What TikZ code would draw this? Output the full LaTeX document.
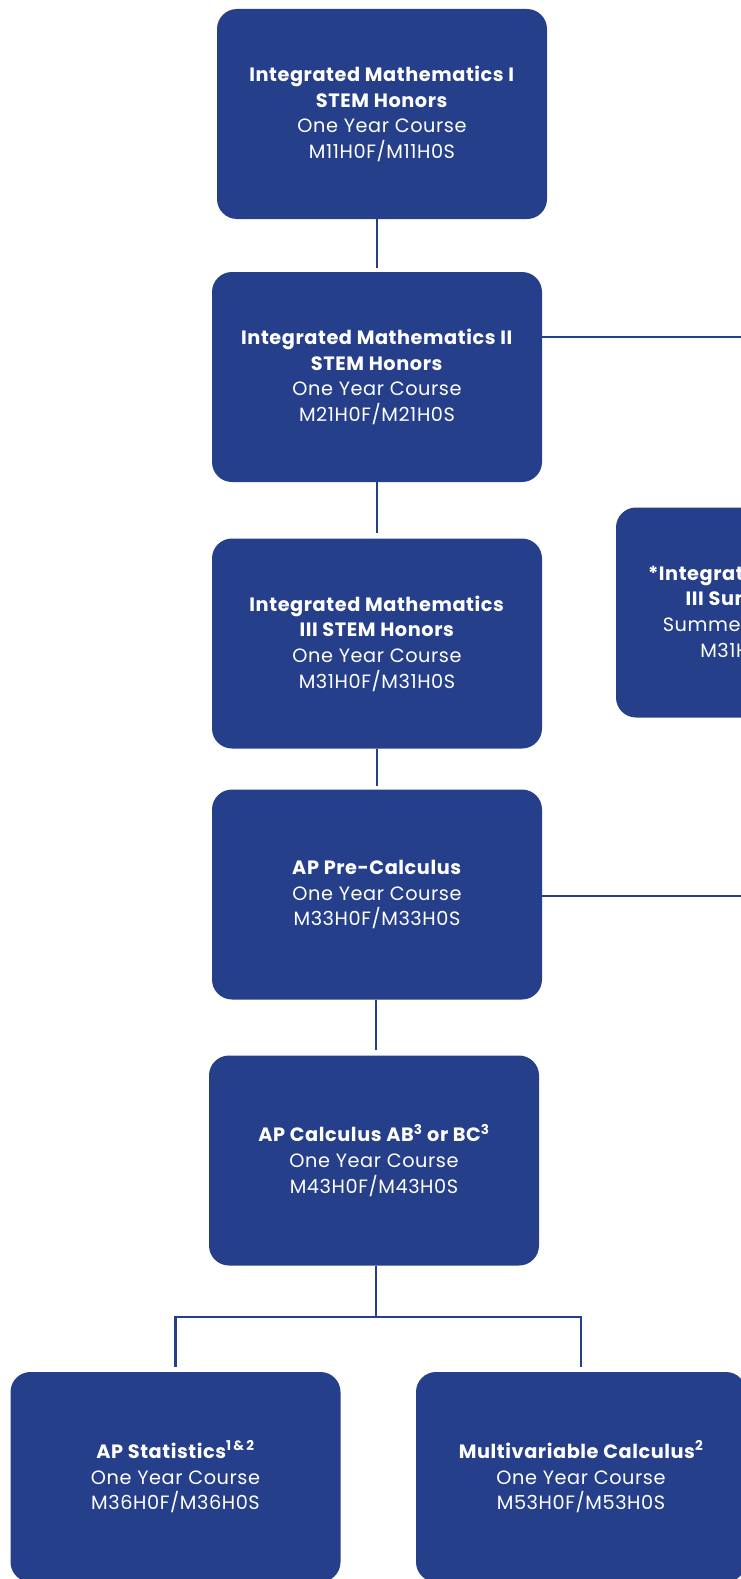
\documentclass[tikz,border=0pt]{standalone}
\usepackage{fontspec}
\setmainfont[LetterSpace=3]{Poppins}
\definecolor{navy}{HTML}{263F8B}
\begin{document}
\begin{tikzpicture}[x=1pt,y=-1pt]
        \tikzstyle{course}=[rectangle,rounded corners=20pt,fill=navy,text=white,minimum width=330pt,minimum height=210pt,align=center,font=\fontsize{19.3}{25.7}\selectfont]
        \tikzstyle{link}=[draw=navy,line width=2.5pt]
        \useasboundingbox (0,0) rectangle (741,1579);
        \clip (0,0) rectangle (741,1579);
       \begin{scope}
         \node [course] (m1) at (382,114) {\textbf{Integrated Mathematics I}\\\textbf{STEM Honors}\\One Year Course\\M11H0F/M11H0S};
         \node [course] (m2) at (377,377) {\textbf{Integrated Mathematics II}\\\textbf{STEM Honors}\\One Year Course\\M21H0F/M21H0S};
         \node [course] (m3) at (377,643.5) {\textbf{Integrated Mathematics}\\\textbf{III STEM Honors}\\One Year Course\\M31H0F/M31H0S};
         \node [course] (m4) at (377,894.5) {\textbf{AP Pre-Calculus}\\One Year Course\\M33H0F/M33H0S};
         \node [course] (m5) at (374,1160.5) {\textbf{AP Calculus AB\textsuperscript{3} or BC\textsuperscript{3}}\\One Year Course\\M43H0F/M43H0S};
         \node [course] (stat) at (175.5,1477) {\textbf{AP Statistics\textsuperscript{1\,\&\,2}}\\One Year Course\\M36H0F/M36H0S};
         \node [course] (multi) at (581,1477) {\textbf{Multivariable Calculus\textsuperscript{2}}\\One Year Course\\M53H0F/M53H0S};
         \node [course] (summer) at (781,612.5) {\textbf{*Integrated Mathematics}\\\textbf{III Summer Honors}\\Summer School Course\\M31H0U/M31H0V};
         \coordinate (j2) at (741,337);
         \coordinate (j4) at (741,896);
         \coordinate (split) at (376,1317);
         \draw[link,shorten >=4pt] (m2.north |- m1.south) -- (m2.north);
         \draw[link,shorten >=5pt] (m2) -- (m3);
         \draw[link,shorten >=3pt] (m3) -- (m4);
         \draw[link,shorten >=5pt] (m4.south -| split) -- (m5.north -| split);
         \draw[link] (j2 -| m2.east) -- (j2);
         \draw[link] (j4 -| m4.east) -- (j4);
         \draw[link] (m5.south -| split) -- (split);
         \draw[link,shorten <=5pt,shorten >=5pt] (stat.north) |- (split) -| (multi.north);
        \end{scope}
      \end{tikzpicture}
\end{document}
